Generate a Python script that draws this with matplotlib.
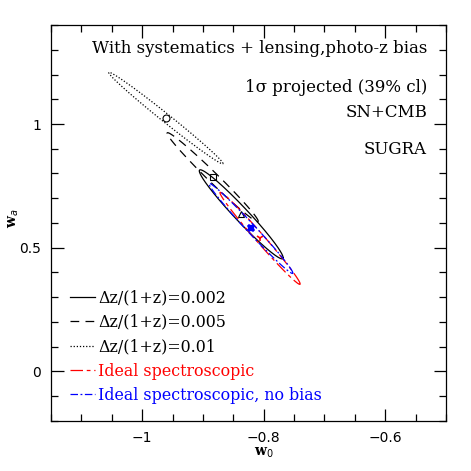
import numpy as np
import matplotlib
matplotlib.use('Agg')
import matplotlib.pyplot as plt
from matplotlib.ticker import MultipleLocator

# fitted centres and 1-sigma widths of each contour (w0, wa)
labels = ['Δz/(1+z)=0.002', 'Δz/(1+z)=0.005', 'Δz/(1+z)=0.01',
          'Ideal spectroscopic', 'Ideal spectroscopic, no bias']
w0_c = [-0.837, -0.884, -0.961, -0.806, -0.821]
wa_c = [0.635, 0.785, 1.024, 0.538, 0.578]
sig_w0 = [0.069, 0.075, 0.094, 0.066, 0.069]
sig_wa = [0.180, 0.180, 0.185, 0.186, 0.182]
rho = [-0.975, -0.988, -0.993, -0.990, -0.990]

colors = ['black', 'black', 'black', 'red', 'blue']
styles = ['-', (0, (7, 5)), (0, (1, 1.5)), (0, (10, 3, 3, 3)), (0, (6, 2, 1.5, 2))]
markers = ['^', 's', 'o', '1', 'X']

fig = plt.figure(figsize=(4.71, 4.71), dpi=100)
ax = fig.add_axes([0.1083, 0.1062, 0.8387, 0.8407])

t = np.linspace(0, 2*np.pi, 400)
for i in range(len(labels)):
    C = np.array([[sig_w0[i]**2, rho[i]*sig_w0[i]*sig_wa[i]],
                  [rho[i]*sig_w0[i]*sig_wa[i], sig_wa[i]**2]])
    L = np.linalg.cholesky(C)
    pts = L @ np.vstack([np.cos(t), np.sin(t)])
    ax.plot(w0_c[i] + pts[0], wa_c[i] + pts[1], color=colors[i],
            linestyle=styles[i], lw=0.9, label=labels[i])
    if markers[i] in ('1', 'X'):
        ax.plot(w0_c[i], wa_c[i], marker=markers[i], color=colors[i], ms=5, mew=1.2)
    else:
        ax.plot(w0_c[i], wa_c[i], marker=markers[i], mfc='none', mec=colors[i], ms=5, mew=0.8)

ax.set_xlim(-1.15, -0.5)
ax.set_ylim(-0.2, 1.4)
ax.xaxis.set_minor_locator(MultipleLocator(0.05))
ax.yaxis.set_minor_locator(MultipleLocator(0.1))
ax.set_xticks([-1, -0.8, -0.6])
ax.set_xticklabels(['−1', '−0.8', '−0.6'])
ax.set_yticks([0, 0.5, 1])
ax.set_yticklabels(['0', '0.5', '1'])
ax.tick_params(which='both', direction='in', top=True, right=True, labelsize=10, width=0.9)
ax.tick_params(which='major', length=9, pad=7)
ax.tick_params(which='minor', length=5)
for s in ax.spines.values():
    s.set_linewidth(0.9)

ax.set_xlabel('w$_0$', fontsize=10, fontweight='bold', family='DejaVu Serif')
ax.set_ylabel('w$_a$', fontsize=10, fontweight='bold', family='DejaVu Serif')
ax.xaxis.set_label_coords(0.539, -0.062)
ax.yaxis.set_label_coords(-0.076, 0.513)

tx = dict(ha='right', va='center', family='DejaVu Serif', fontsize=12, transform=ax.transAxes)
ax.text(0.952, 0.94, 'With systematics + lensing,photo-z bias', **tx)
ax.text(0.952, 0.842, '1σ projected (39% cl)', **tx)
ax.text(0.952, 0.779, 'SN+CMB', **tx)
ax.text(0.952, 0.686, 'SUGRA', **tx)

leg = ax.legend(loc='lower left', bbox_to_anchor=(0.012, 0.007), frameon=False,
                handlelength=1.6, handletextpad=0.2, labelspacing=0.47,
                prop={'family': 'DejaVu Serif', 'size': 11.4})
for txt, c in zip(leg.get_texts(), colors):
    txt.set_color(c)

fig.savefig('out.png', dpi=100)
